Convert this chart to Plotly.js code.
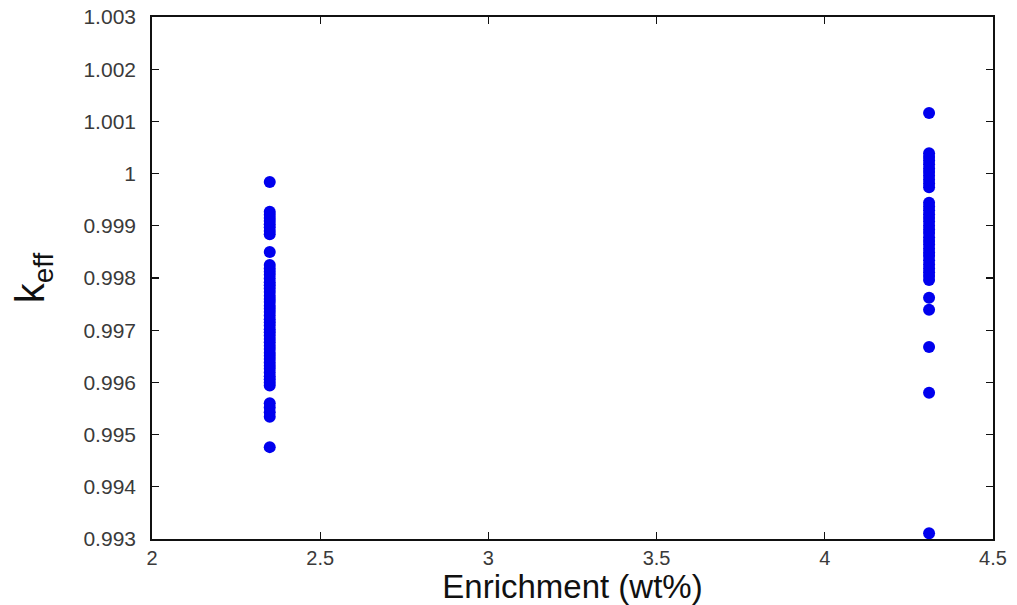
<!DOCTYPE html>
<html>
<head>
<meta charset="utf-8">
<script src="https://cdn.plot.ly/plotly-3.0.1.min.js"></script>
<style>html,body{margin:0;padding:0;background:#fff}#chart{width:1017px;height:605px}</style>
</head>
<body>
<div id="chart"></div>
<script>
// Enrichment positions of the two data columns
const enrichLow = 2.35;
const enrichHigh = 4.31;

// k_eff values
const keffLow = [
  0.99984,
  0.99927, 0.99921, 0.99915, 0.99909, 0.99903, 0.99897, 0.99890, 0.99884,
  0.99850,
  0.99825, 0.99818, 0.99812, 0.99806, 0.99799, 0.99792, 0.99786, 0.99780, 0.99773, 0.99766,
  0.99760, 0.99754, 0.99747, 0.99741, 0.99735, 0.99728, 0.99721, 0.99715, 0.99709, 0.99702,
  0.99696, 0.99690, 0.99683, 0.99677, 0.99670, 0.99664, 0.99657, 0.99651, 0.99645, 0.99638,
  0.99632, 0.99626, 0.99619, 0.99612, 0.99606, 0.99600, 0.99594,
  0.99560, 0.99552, 0.99543, 0.99534,
  0.99476
];
const keffHigh = [
  1.00116,
  1.00039, 1.00032, 1.00025, 1.00018, 1.00010, 1.00003, 0.99996, 0.99988, 0.99981, 0.99974,
  0.99944, 0.99937, 0.99930, 0.99922, 0.99915, 0.99908, 0.99900, 0.99893, 0.99886, 0.99878,
  0.99871, 0.99864, 0.99856, 0.99849, 0.99842, 0.99834, 0.99826, 0.99818, 0.99811, 0.99804, 0.99796,
  0.99762, 0.99739, 0.99668, 0.99580, 0.99311
];

const xTicks = [2, 2.5, 3, 3.5, 4, 4.5];
const xTickText = ['2', '2.5', '3', '3.5', '4', '4.5'];
const yTicks = [0.993, 0.994, 0.995, 0.996, 0.997, 0.998, 0.999, 1, 1.001, 1.002, 1.003];
const yTickText = ['0.993', '0.994', '0.995', '0.996', '0.997', '0.998', '0.999', '1', '1.001', '1.002', '1.003'];

const xs = keffLow.map(() => enrichLow).concat(keffHigh.map(() => enrichHigh));
const ys = keffLow.concat(keffHigh);

const trace = {
  x: xs, y: ys, type: 'scatter', mode: 'markers',
  marker: {color: '#0000ee', size: 12, line: {width: 0}},
  hoverinfo: 'x+y'
};

const FONT = 'Liberation Sans, Arial, sans-serif';
const axisCommon = {
  showgrid: false, zeroline: false, showline: true, linecolor: '#111', linewidth: 1.8,
  mirror: 'ticks', ticks: 'inside', ticklen: 7, tickwidth: 1.2, tickcolor: '#111',
  tickfont: {family: FONT, size: 21, color: '#3a3a3a'}
};

const layout = {
  width: 1017, height: 605,
  margin: {l: 152, r: 24, t: 17, b: 66},
  paper_bgcolor: '#fff', plot_bgcolor: '#fff',
  showlegend: false,
  xaxis: Object.assign({}, axisCommon, {
    range: [2, 4.5], tickvals: xTicks, ticktext: xTickText,
    ticklabelstandoff: 0,
    tickfont: {family: FONT, size: 20, color: '#3a3a3a'},
    title: {text: 'Enrichment (wt%)', font: {family: FONT, size: 33, color: '#111'}, standoff: 8}
  }),
  yaxis: Object.assign({}, axisCommon, {
    range: [0.993, 1.003], tickvals: yTicks, ticktext: yTickText,
    ticklabelstandoff: 10,
    title: {text: 'k<sub>eff</sub>', font: {family: FONT, size: 40, color: '#111'}, standoff: 26}
  })
};

Plotly.newPlot('chart', [trace], layout, {displayModeBar: false, staticPlot: true});
</script>
</body>
</html>
